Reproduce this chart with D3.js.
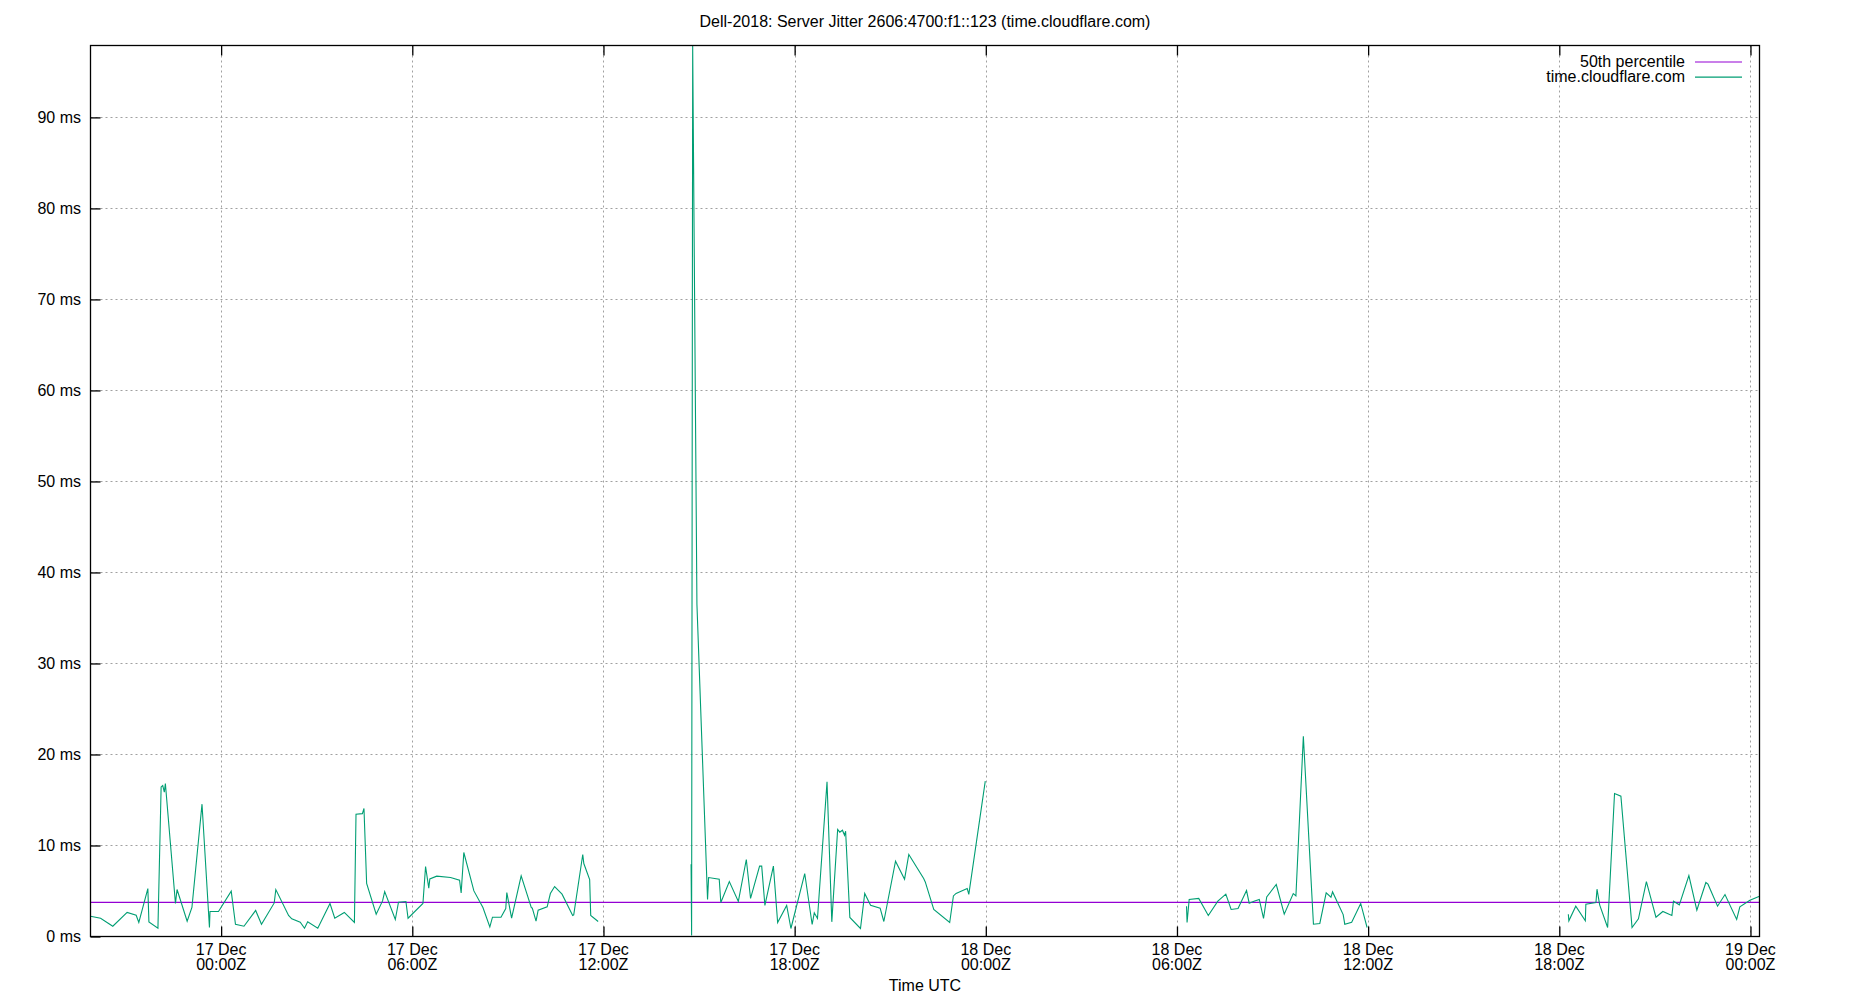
<!DOCTYPE html>
<html><head><meta charset="utf-8">
<script src="https://cdn.jsdelivr.net/npm/d3@7"></script>
<style>
body{margin:0;background:#fff}
text{font-family:"Liberation Sans",Arial,sans-serif;font-size:16px;fill:#000}
</style>
</head><body>
<svg id="chart" width="1850" height="1000"></svg>
<script>
const chartTitle = "Dell-2018: Server Jitter 2606:4700:f1::123 (time.cloudflare.com)";
const xAxisTitle = "Time UTC";
const seriesName = "time.cloudflare.com";
const medianName = "50th percentile";
const medianValue = 3.74;
const yMax = 97.9;
const xDomain = ["12-16 19:54", "12-19 00:17"];
const yTicks = [0, 10, 20, 30, 40, 50, 60, 70, 80, 90];
const xTicks = ["12-17 00:00","12-17 06:00","12-17 12:00","12-17 18:00","12-18 00:00","12-18 06:00","12-18 12:00","12-18 18:00","12-19 00:00"];

// null jitter = gap in the data
const times = [
"12-16 19:54","12-16 20:13","12-16 20:36","12-16 21:03","12-16 21:20","12-16 21:25","12-16 21:42","12-16 21:44","12-16 22:01","12-16 22:07",
"12-16 22:10","12-16 22:13","12-16 22:15","12-16 22:34","12-16 22:37","12-16 22:56","12-16 23:05","12-16 23:24","12-16 23:38","12-16 23:39",
"12-16 23:55","12-17 00:19","12-17 00:27","12-17 00:43","12-17 01:05","12-17 01:16","12-17 01:40","12-17 01:43","12-17 02:07","12-17 02:13",
"12-17 02:29","12-17 02:37","12-17 02:43","12-17 03:02","12-17 03:25","12-17 03:34","12-17 03:52","12-17 04:11","12-17 04:14","12-17 04:26",
"12-17 04:29","12-17 04:34","12-17 04:52","12-17 05:04","12-17 05:08","12-17 05:28","12-17 05:34","12-17 05:48","12-17 05:52","12-17 06:20",
"12-17 06:25","12-17 06:31","12-17 06:33","12-17 06:46","12-17 07:12","12-17 07:29","12-17 07:32","12-17 07:37","12-17 07:56","12-17 08:13",
"12-17 08:26","12-17 08:31","12-17 08:47","12-17 08:56","12-17 08:58","12-17 09:07","12-17 09:25","12-17 09:44","12-17 09:46","12-17 09:53",
"12-17 09:57","12-17 10:14","12-17 10:20","12-17 10:28","12-17 10:42","12-17 11:02","12-17 11:04","12-17 11:21","12-17 11:23","12-17 11:34",
"12-17 11:36","12-17 11:50",
"12-17 13:00",
"12-17 14:45","12-17 14:46","12-17 14:48","12-17 14:56","12-17 15:16","12-17 15:18","12-17 15:38","12-17 15:41","12-17 15:57","12-17 16:14",
"12-17 16:29","12-17 16:37","12-17 16:54","12-17 16:58","12-17 17:04","12-17 17:20","12-17 17:28","12-17 17:45","12-17 17:53","12-17 18:19",
"12-17 18:33","12-17 18:37","12-17 18:43","12-17 19:01","12-17 19:10","12-17 19:21","12-17 19:25","12-17 19:30","12-17 19:34","12-17 19:36",
"12-17 19:44","12-17 20:04","12-17 20:12","12-17 20:23","12-17 20:41","12-17 20:48","12-17 21:10","12-17 21:27","12-17 21:35","12-17 22:03",
"12-17 22:06","12-17 22:22","12-17 22:52","12-17 22:59","12-17 23:04","12-17 23:25","12-17 23:28","12-17 23:59",
"12-18 03:00",
"12-18 06:18","12-18 06:19","12-18 06:23","12-18 06:41","12-18 06:59","12-18 07:17","12-18 07:32","12-18 07:42","12-18 07:55","12-18 08:11",
"12-18 08:16","12-18 08:25","12-18 08:35","12-18 08:43","12-18 08:49","12-18 09:07","12-18 09:22","12-18 09:39","12-18 09:44","12-18 09:58",
"12-18 10:17","12-18 10:29","12-18 10:41","12-18 10:50","12-18 10:53","12-18 11:13","12-18 11:16","12-18 11:29","12-18 11:46","12-18 11:58",
"12-18 15:00",
"12-18 18:17","12-18 18:18","12-18 18:31","12-18 18:49","12-18 18:50","12-18 19:09","12-18 19:11","12-18 19:16","12-18 19:31","12-18 19:44",
"12-18 19:56","12-18 20:17","12-18 20:29","12-18 20:44","12-18 21:02","12-18 21:15","12-18 21:32","12-18 21:35","12-18 21:46","12-18 22:04",
"12-18 22:19","12-18 22:36","12-18 22:40","12-18 22:58","12-18 23:12","12-18 23:34","12-18 23:40","12-18 23:59","12-19 00:17"
];
const jitter = [
2.23,2.01,1.13,2.64,2.34,1.54,5.27,1.61,0.91,16.44,
16.6,15.86,16.81,3.63,5.16,1.68,3.19,14.54,0.99,2.75,
2.75,4.98,1.35,1.13,2.86,1.35,3.69,5.16,2.31,1.94,
1.57,0.91,1.61,0.91,3.63,2.01,2.64,1.54,13.44,13.5,
14.07,5.82,2.45,3.91,4.94,1.87,3.77,3.84,2.01,3.63,
7.69,5.31,6.33,6.63,6.48,6.19,4.79,9.23,5.01,3.19,
1.06,2.12,2.12,3.08,4.83,2.01,6.66,3.19,3.11,1.68,
2.89,3.26,4.72,5.49,4.65,2.31,2.38,9.01,8.02,6.26,
2.31,1.65,
null,
7.95,0.1,97.9,36.5,4.07,6.48,6.30,3.74,6.04,3.85,
8.46,4.18,7.73,7.73,3.41,7.73,1.54,3.41,0.88,6.92,
1.32,2.6,1.98,17.0,1.61,11.76,11.46,11.68,11.13,11.57,
2.09,0.88,4.73,3.44,3.11,1.65,8.27,6.30,9.01,6.37,
6.0,2.97,1.54,4.46,4.73,5.27,4.62,17.07,
null,
3.33,1.54,4.07,4.18,2.31,3.88,4.65,2.97,3.08,5.05,
3.66,3.88,4.07,1.98,4.35,5.71,2.45,4.72,4.47,22.01,
1.35,1.43,4.79,4.32,4.9,2.41,1.35,1.57,3.63,0.99,
null,
2.45,1.72,3.33,1.72,3.55,3.74,5.2,3.48,0.99,15.71,
15.42,0.99,1.94,6.04,2.12,2.75,2.31,3.88,3.48,6.7,
2.89,5.93,5.75,3.33,4.61,1.87,3.26,3.99,4.43
];

const parse = d3.utcParse("%m-%d %H:%M");
const data = times.map((t, i) => ({t: parse(t), v: jitter[i]}));

const L = 90.5, R = 1759.5, T = 45.5, B = 936.5;
const svg = d3.select("#chart");
const x = d3.scaleUtc().domain(xDomain.map(parse)).range([L, R]);
const y = d3.scaleLinear().domain([0, yMax]).range([B, T]);
const xTickDates = xTicks.map(parse);

// grid
const grid = svg.append("g").attr("stroke", "#a0a0a0").attr("stroke-width", 1).attr("stroke-dasharray", "2,3");
grid.selectAll("line.gx").data(xTickDates).join("line")
  .attr("x1", d => Math.round(x(d)) + 0.5).attr("x2", d => Math.round(x(d)) + 0.5)
  .attr("y1", T).attr("y2", B);
grid.selectAll("line.gy").data(yTicks.filter(v => v > 0)).join("line")
  .attr("x1", L).attr("x2", R)
  .attr("y1", d => Math.round(y(d)) + 0.5).attr("y2", d => Math.round(y(d)) + 0.5);

const clip = svg.append("clipPath").attr("id", "clip").append("rect")
  .attr("x", L).attr("y", T).attr("width", R - L).attr("height", B - T);

// median line
svg.append("line").attr("x1", L).attr("x2", R)
  .attr("y1", y(medianValue)).attr("y2", y(medianValue))
  .attr("stroke", "#9400d3").attr("stroke-width", 1.2);

// series
const line = d3.line().defined(d => d.v !== null).x(d => x(d.t)).y(d => y(d.v));
svg.append("path").datum(data).attr("clip-path", "url(#clip)")
  .attr("d", line).attr("fill", "none").attr("stroke", "#009e73").attr("stroke-width", 1.1)
  .attr("stroke-linejoin", "miter");

// axes ticks
const xAxis = d3.axisBottom(x).tickValues(xTickDates).tickSize(-10).tickPadding(0).tickFormat("");
const gx = svg.append("g").attr("transform", `translate(0,${B})`).call(xAxis);
const xAxisTop = d3.axisTop(x).tickValues(xTickDates).tickSize(-10).tickFormat("");
const gxt = svg.append("g").attr("transform", `translate(0,${T})`).call(xAxisTop);
const yAxis = d3.axisLeft(y).tickValues(yTicks).tickSize(-10).tickFormat("");
const gy = svg.append("g").attr("transform", `translate(${L},0)`).call(yAxis);
[gx, gxt, gy].forEach(g => {
  g.select(".domain").remove();
  g.selectAll("line").attr("stroke", "#000").attr("stroke-width", 1.3);
});

// frame
svg.append("rect").attr("x", L).attr("y", T).attr("width", R - L).attr("height", B - T)
  .attr("fill", "none").attr("stroke", "#000").attr("stroke-width", 1.3);

// tick labels
const fDay = d3.utcFormat("%d %b"), fTime = d3.utcFormat("%H:%MZ");
const xl = svg.append("g");
xTickDates.forEach(d => {
  const t = xl.append("text").attr("text-anchor", "middle");
  t.append("tspan").attr("x", x(d)).attr("y", 955).text(fDay(d));
  t.append("tspan").attr("x", x(d)).attr("y", 969.5).text(fTime(d));
});
svg.append("g").selectAll("text").data(yTicks).join("text")
  .attr("x", 81).attr("y", d => y(d)).attr("dy", "0.35em").attr("text-anchor", "end")
  .text(d => `${d} ms`);

// titles
svg.append("text").attr("x", (L + R) / 2).attr("y", 27).attr("text-anchor", "middle").text(chartTitle);
svg.append("text").attr("x", (L + R) / 2).attr("y", 991).attr("text-anchor", "middle").text(xAxisTitle);

// legend
const legend = [{name: medianName, color: "#9400d3"}, {name: seriesName, color: "#009e73"}];
legend.forEach((d, i) => {
  const by = 66.5 + i * 15.2;
  svg.append("text").attr("x", 1685).attr("y", by).attr("text-anchor", "end").text(d.name);
  svg.append("line").attr("x1", 1695).attr("x2", 1742).attr("y1", by - 4.5).attr("y2", by - 4.5)
    .attr("stroke", d.color).attr("stroke-width", 1.2);
});
</script>
</body></html>
